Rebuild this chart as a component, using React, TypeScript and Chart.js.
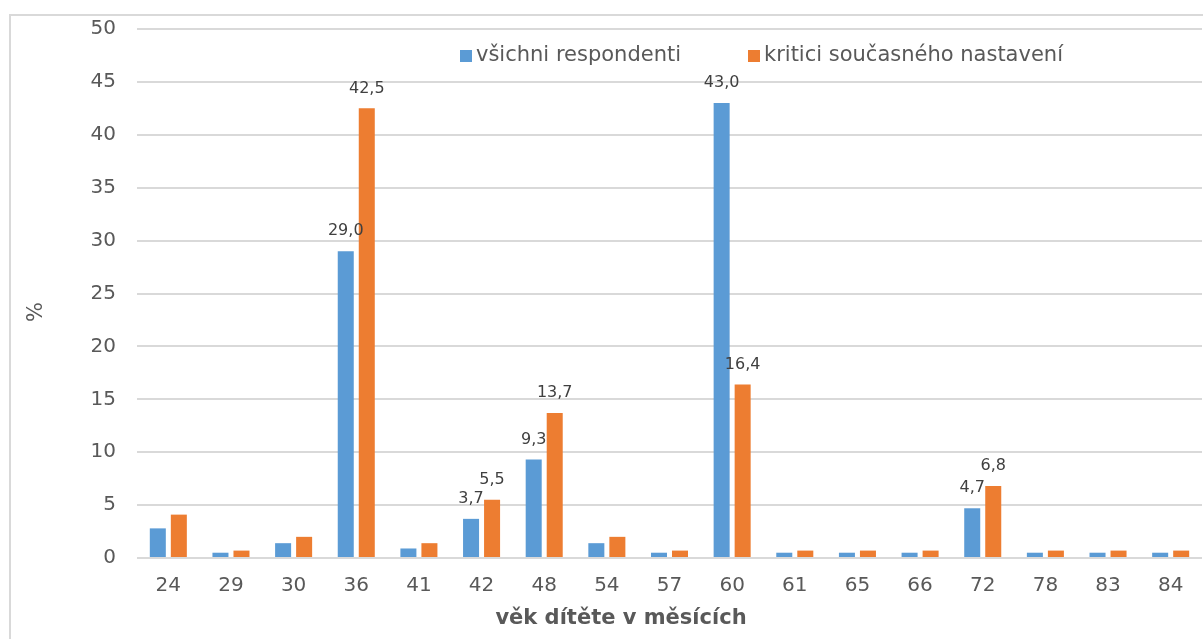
import React, { useEffect, useRef } from "react";
import { Chart, registerables } from "chart.js";

Chart.register(...registerables);

const categories = ["24", "29", "30", "36", "41", "42", "48", "54", "57", "60", "61", "65", "66", "72", "78", "83", "84"];
const allRespondents = [2.8, 0.5, 1.4, 29.0, 0.9, 3.7, 9.3, 1.4, 0.5, 43.0, 0.5, 0.5, 0.5, 4.7, 0.5, 0.5, 0.5];
const critics = [4.1, 0.7, 2.0, 42.5, 1.4, 5.5, 13.7, 2.0, 0.7, 16.4, 0.7, 0.7, 0.7, 6.8, 0.7, 0.7, 0.7];
const labeledCategories = ["36", "42", "48", "60", "72"];
const seriesNames = ["všichni respondenti", "kritici současného nastavení"];
const seriesColors = ["#5B9BD5", "#ED7D31"];
const xTitle = "věk dítěte v měsících";
const yTitle = "%";
const yMin = 0;
const yMax = 50;
const yStep = 5;

const FONT = "'DejaVu Sans', Verdana, sans-serif";
const TEXT = "#595959";

const fmt = (v: number) => v.toFixed(1).replace(".", ",");

const extrasPlugin = {
  id: "extras",
  afterDatasetsDraw(chart: any) {
    const ctx = chart.ctx;
    ctx.save();
    // data labels
    ctx.font = `16px ${FONT}`;
    ctx.fillStyle = "#404040";
    ctx.textAlign = "center";
    ctx.textBaseline = "middle";
    chart.data.datasets.forEach((ds: any, di: number) => {
      const meta = chart.getDatasetMeta(di);
      meta.data.forEach((bar: any, i: number) => {
        if (!labeledCategories.includes(chart.data.labels[i])) return;
        ctx.fillText(fmt(ds.data[i]), bar.x, bar.y - 20);
      });
    });
    // legend
    ctx.font = `21px ${FONT}`;
    ctx.textAlign = "left";
    ctx.textBaseline = "middle";
    const legendX = [460, 748];
    const legendY = 56;
    chart.data.datasets.forEach((ds: any, di: number) => {
      ctx.fillStyle = ds.backgroundColor;
      ctx.fillRect(legendX[di], legendY - 6, 12, 12);
      ctx.fillStyle = TEXT;
      ctx.fillText(ds.label, legendX[di] + 16, legendY);
    });
    // axis titles
    ctx.font = `bold 21px ${FONT}`;
    ctx.textAlign = "center";
    ctx.fillText(xTitle, 621, 619);
    ctx.save();
    ctx.translate(37, 312);
    ctx.rotate(-Math.PI / 2);
    ctx.font = `21px ${FONT}`;
    ctx.fillText(yTitle, 0, 0);
    ctx.restore();
    ctx.restore();
  },
};

export default function App() {
  const ref = useRef<HTMLCanvasElement | null>(null);
  useEffect(() => {
    if (!ref.current) return;
    const chart = new Chart(ref.current, {
      type: "bar",
      data: {
        labels: categories,
        datasets: [
          { label: seriesNames[0], data: allRespondents, backgroundColor: seriesColors[0] },
          { label: seriesNames[1], data: critics, backgroundColor: seriesColors[1] },
        ],
      },
      options: {
        animation: false,
        responsive: false,
        maintainAspectRatio: false,
        devicePixelRatio: 1,
        categoryPercentage: 0.671,
        barPercentage: 0.762,
        layout: { padding: { left: 0, right: 1, top: 29, bottom: 0 } },
        plugins: {
          legend: { display: false },
          tooltip: { enabled: false },
        },
        scales: {
          x: {
            grid: { display: false },
            border: { display: false },
            ticks: { color: TEXT, font: { family: FONT, size: 20 }, padding: 8, maxRotation: 0, autoSkip: false },
            afterFit: (s: any) => {
              s.height = 81;
            },
          },
          y: {
            min: yMin,
            max: yMax,
            grid: { color: "#d9d9d9", lineWidth: 2, drawTicks: false },
            border: { display: false },
            ticks: { stepSize: yStep, color: TEXT, font: { family: FONT, size: 20, lineHeight: 0.7 }, padding: 21 },
            afterFit: (s: any) => {
              s.width = 137;
            },
          },
        },
      },
      plugins: [extrasPlugin],
    });
    return () => chart.destroy();
  }, []);

  return (
    <div style={{ position: "fixed", left: 0, top: 0, width: 1203, height: 639, overflow: "hidden", background: "#fff" }}>
      <div
        style={{
          position: "absolute",
          left: 9,
          top: 14,
          width: 1300,
          height: 700,
          border: "2px solid #d9d9d9",
        }}
      />
      <canvas ref={ref} width={1203} height={639} style={{ position: "absolute", left: 0, top: 0, width: 1203, height: 639 }} />
    </div>
  );
}
